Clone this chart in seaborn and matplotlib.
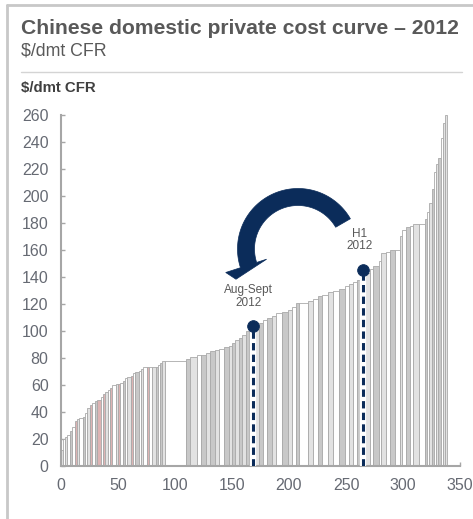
import numpy as np
import pandas as pd
import matplotlib
matplotlib.use("Agg")
import matplotlib.pyplot as plt
import matplotlib.transforms as mtransforms
from matplotlib.lines import Line2D
from matplotlib.patches import Polygon
import seaborn as sns

# Supply curve: capacity of each producer block (Mt) and its cash cost ($/dmt CFR)
capacity = [1.5, 2, 2, 2.5, 2, 2, 2, 2, 3, 2,
            2, 2, 2, 3, 2, 3, 2, 2, 2, 2,
            2, 3, 2, 2, 2, 2, 2, 3, 2, 2,
            3, 2, 2, 3, 2, 3, 3, 2, 2, 2,
            2, 19, 3, 6, 4, 4, 4, 4, 4, 4,
            4, 3, 3, 3, 3, 3, 3, 2, 3, 4,
            3, 4, 4, 4, 5, 5, 4, 3, 3, 8,
            4, 4, 4, 5, 5, 5, 5, 4, 3, 4,
            3, 4, 4, 3, 5, 2, 4, 4, 4, 4,
            2, 4, 3, 3, 5, 5, 2, 2, 2, 2,
            2, 2, 2, 2, 2, 2]
cost = [12, 20, 21.5, 23, 26, 29, 33, 34.5, 35.5, 36,
        39, 43, 45.5, 47, 48, 49, 51, 53, 55, 56,
        57.5, 60, 60.5, 61, 61.5, 63, 65.5, 66, 66.5, 69,
        70, 70.5, 72, 73, 73, 73, 73, 73, 74.5, 76.5,
        77.5, 78, 79, 81, 82, 82.5, 84, 85, 86, 87,
        88, 89, 91, 93, 95, 97, 100, 101, 104, 104.5,
        106, 108, 110, 111, 113, 114, 115.5, 118, 120.5, 121,
        122, 124, 126, 127, 129, 130, 131, 133, 135, 136.5,
        138, 141, 143, 146, 148, 152, 158, 158.5, 160, 160,
        170, 175, 177, 177.5, 179, 179.5, 183, 188, 195, 205,
        218, 224, 228, 243, 254, 260]
tone = ["light", "white", "light", "white", "mid", "white", "pink", "light", "white", "mid",
        "white", "light", "pink", "white", "mid", "pink", "white", "pink", "light", "white",
        "pink", "white", "light", "pink", "white", "mid", "white", "light", "pink", "white",
        "mid", "white", "light", "white", "pink", "white", "light", "mid", "white", "mid",
        "light", "white", "mid", "light", "white", "mid", "light", "mid", "light", "white",
        "mid", "light", "mid", "light", "mid", "light", "mid", "light", "mid", "light",
        "mid", "white", "mid", "light", "white", "mid", "light", "white", "mid", "white",
        "light", "white", "mid", "white", "light", "white", "mid", "white", "light", "white",
        "mid", "white", "light", "white", "mid", "white", "light", "white", "mid", "white",
        "light", "white", "mid", "white", "light", "white", "mid", "white", "light", "mid",
        "white", "light", "mid", "white", "light", "light"]

# Reference price points marked on the curve
period_labels = ["Aug-Sept\n2012", "H1\n2012"]
period_x = [168, 265]
period_price = [104, 145]
label_x = [164.3, 262]
label_y = [125.6, 167.4]

x_ticks = [0, 50, 100, 150, 200, 250, 300, 350]
y_ticks = [0, 20, 40, 60, 80, 100, 120, 140, 160, 180, 200, 220, 240, 260]

title = "Chinese domestic private cost curve \u2013 2012"
subtitle = "$/dmt CFR"
axis_unit = "$/dmt CFR"

NAVY = "#0b2c5a"
TEXT = "#595959"
TICK = "#666a73"
SPINE = "#a6a6a6"

sns.set_theme(style="white")
plt.rcParams["font.family"] = ["Liberation Sans", "DejaVu Sans"]

W, H = 473, 519
fig = plt.figure(figsize=(W / 100, H / 100), dpi=100)
ax = fig.add_axes([61 / W, 1 - 466 / H, (460 - 61) / W, (466 - 115) / H])

palette = {"white": "#ffffff", "light": "#e2e2e2", "mid": "#c8c8c8", "pink": "#ddb3b3"}
df = pd.DataFrame({"capacity": capacity, "cost": cost, "tone": tone})
df["start"] = df["capacity"].cumsum() - df["capacity"]
ax.bar(df["start"], df["cost"], width=df["capacity"], align="edge",
       color=df["tone"].map(palette), edgecolor="#a9a9a9", linewidth=0.6, zorder=2)

# Dashed drop lines from each reference price
for x, y in zip(period_x, period_price):
    ax.plot([x, x], [0, y], color="white", lw=4.5, solid_capstyle="butt", zorder=3)
    ax.plot([x, x], [0, y], color=NAVY, lw=2.2, ls=(0, (2.4, 1.4)), zorder=4)
sns.scatterplot(x=period_x, y=period_price, ax=ax, s=70, color=NAVY,
                edgecolor=NAVY, zorder=5, legend=False)
for lx, ly, txt in zip(label_x, label_y, period_labels):
    ax.text(lx, ly, txt, ha="center", va="center", fontsize=8.5, color=TEXT,
            linespacing=1.05, zorder=6)

ax.set_xlim(0, 350)
ax.set_ylim(0, 260)
ax.set_xticks(x_ticks)
ax.set_yticks(y_ticks)
sns.despine(ax=ax)
for side in ("left", "bottom"):
    ax.spines[side].set_color(SPINE)
    ax.spines[side].set_linewidth(1.5)
ax.tick_params(axis="both", which="major", direction="in", length=3, width=1,
               color=SPINE, labelsize=11.5, labelcolor=TICK, bottom=True, left=True)
ax.tick_params(axis="y", pad=9)
ax.tick_params(axis="x", pad=9)
ax.set_xlabel("")
ax.set_ylabel("")

# Curved arrow from H1 down to Aug-Sept, drawn in pixel space
px = mtransforms.Affine2D().scale(1 / W, -1 / H).translate(0, 1) + fig.transFigure
cx, cy, r_out, r_in = 298, 249, 60.5, 43.5
theta = np.radians(np.linspace(30, 198, 80))
outer = np.column_stack([cx + r_out * np.cos(theta), cy - r_out * np.sin(theta)])
inner = np.column_stack([cx + r_in * np.cos(theta[::-1]), cy - r_in * np.sin(theta[::-1])])
tb = np.radians(198)
tt = np.radians(206)
head = np.array([
    [cx + 76 * np.cos(tb), cy - 76 * np.sin(tb)],
    [cx + 69 * np.cos(tt), cy - 69 * np.sin(tt)],
    [cx + 33 * np.cos(tb), cy - 33 * np.sin(tb)],
])
arrow = Polygon(np.vstack([outer, head, inner]), closed=True, transform=px,
                facecolor=NAVY, edgecolor=NAVY, lw=0.5, zorder=10)
fig.add_artist(arrow)

# Header and frame
fig.text(21 / W, 1 - 28 / H, title, fontsize=15.2, weight="bold", color=TEXT, va="center")
fig.text(21 / W, 1 - 51 / H, subtitle, fontsize=12.8, color=TEXT, va="center")
fig.text(21 / W, 1 - 88 / H, axis_unit, fontsize=10.8, weight="bold", color="#404040", va="center")
fig.add_artist(Line2D([21, 462], [72, 72], transform=px, color="#d4d4d4", lw=1))
fig.add_artist(Line2D([7, 7], [5, 519], transform=px, color="#c8c8c8", lw=2))
fig.add_artist(Line2D([7, 473], [5, 5], transform=px, color="#c8c8c8", lw=2))

fig.savefig("out.png", dpi=100)
